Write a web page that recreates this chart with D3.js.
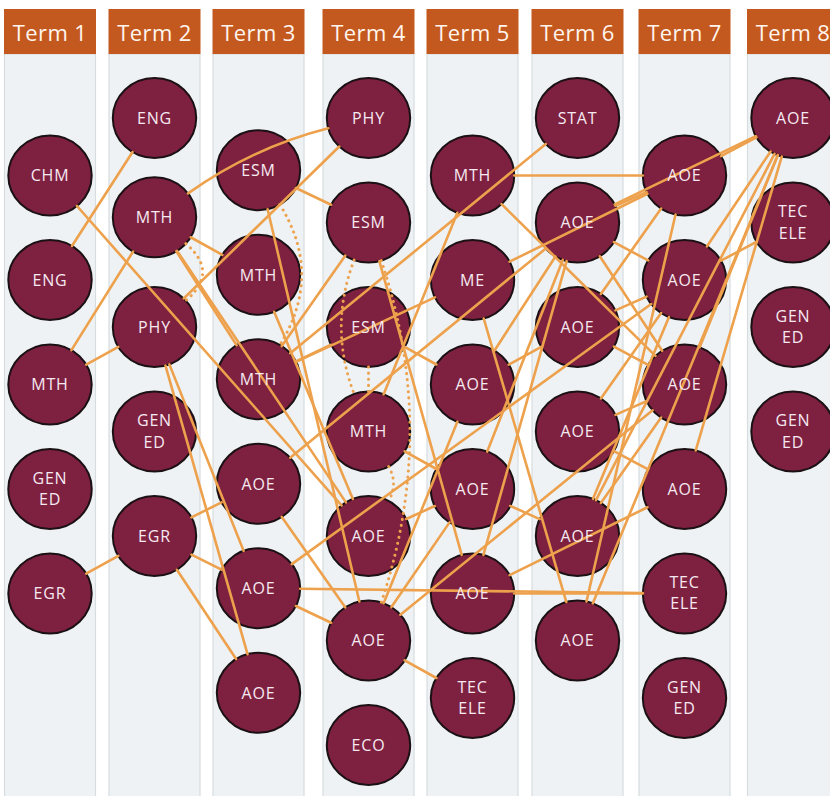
<!DOCTYPE html>
<html><head><meta charset="utf-8">
<script src="https://cdn.jsdelivr.net/npm/d3@7"></script>
<style>
html,body{margin:0;padding:0;background:#fff;}
svg{display:block;}
</style></head><body>
<svg id="chart" width="830" height="796"></svg>
<script>
// ---------------- data ----------------
const terms = ["Term 1","Term 2","Term 3","Term 4","Term 5","Term 6","Term 7","Term 8"];

const courseLabels = [
  ["CHM","ENG","MTH","GEN ED","EGR"],
  ["ENG","MTH","PHY","GEN ED","EGR"],
  ["ESM","MTH","MTH","AOE","AOE","AOE"],
  ["PHY","ESM","ESM","MTH","AOE","AOE","ECO"],
  ["MTH","ME","AOE","AOE","AOE","TEC ELE"],
  ["STAT","AOE","AOE","AOE","AOE","AOE"],
  ["AOE","AOE","AOE","AOE","TEC ELE","GEN ED"],
  ["AOE","TEC ELE","GEN ED","GEN ED"]
];
// vertical slot of each course in its term column
const courseSlots = [
  [1.1,3.1,5.1,7.1,9.1],
  [0,1.9,4,6,8],
  [1,3,5,7,9,11],
  [0,2,4,6,8,10,12],
  [1.1,3.1,5.1,7.1,9.1,11.1],
  [0,2,4,6,8,10],
  [1.1,3.1,5.1,7.1,9.1,11.1],
  [0,2,4,6]
];

// prerequisite links "term.course"
const prereqLinks = [
  ["1.2","2.1"],["1.3","2.2"],["1.3","2.3"],["1.5","2.5"],["1.1","4.5"],
  ["2.2","3.2"],["2.2","3.3"],["2.2","4.5"],["2.3","4.1"],["2.3","3.5"],["2.3","3.6"],
  ["2.5","3.4"],["2.5","3.5"],["2.5","3.6"],
  ["3.1","4.2"],["3.1","4.6"],["3.2","4.5"],["3.3","4.2"],["3.3","4.3"],["3.3","5.2"],
  ["3.3","6.1"],["3.4","4.6"],["3.4","6.2"],["3.5","4.6"],["3.5","7.5"],["3.5","7.2"],
  ["4.2","5.5"],["4.3","5.3"],["4.4","5.1"],["4.4","5.4"],["4.5","5.4"],
  ["4.6","5.3"],["4.6","5.4"],["4.6","5.6"],["4.6","7.3"],
  ["5.1","7.1"],["5.1","7.3"],["5.2","7.1"],["5.2","6.6"],["5.3","6.2"],["5.3","6.3"],
  ["5.4","6.2"],["5.4","6.5"],["5.5","6.2"],["5.5","7.4"],["5.5","7.5"],
  ["6.2","7.1"],["6.2","7.2"],["6.2","7.3"],["6.2","8.1"],["6.3","7.1"],["6.3","7.2"],
  ["6.3","7.3"],["6.4","7.2"],["6.4","7.3"],["6.4","7.4"],["6.5","7.2"],["6.5","7.3"],
  ["6.6","7.1"],["6.5","8.1"],["6.6","8.1"],
  ["7.1","8.1"],["7.2","8.1"],["7.2","8.2"],["7.3","8.1"],["7.4","8.1"]
];
// curved prerequisite links: [from, to, bend]
const arcLinks = [["2.2","4.1",22]];
// corequisite (dotted) links: [from, to, bend]
const coreqLinks = [
  ["2.2","2.3",65],["3.1","3.3",65],["4.2","4.4",-40],["4.3","4.4",0],
  ["4.2","4.6",70],["4.4","4.5",30]
];

// ---------------- layout ----------------
const W = 830, H = 796;
const RX = 41.7, RY = 40;
const svg = d3.select("#chart");

const x = d3.scaleOrdinal().domain(terms)
  .range([50,154.5,258.5,368.5,472.5,577.5,684.5,793]);
const y = d3.scaleLinear().domain([0,12]).range([118,745]);

const nodes = [];
const nodeById = {};
courseLabels.forEach((list, ti) => {
  list.forEach((lab, ci) => {
    const n = {id:(ti+1)+"."+(ci+1), label:lab, term:terms[ti], slot:courseSlots[ti][ci]};
    n.x = x(n.term); n.y = y(n.slot);
    nodes.push(n); nodeById[n.id] = n;
  });
});

// columns
const colW = 92;
const cols = svg.append("g");
cols.selectAll("rect.col").data(terms).join("rect")
  .attr("class","col")
  .attr("x", d => x(d) - colW/2 + 0.5).attr("y", 54)
  .attr("width", colW - 1).attr("height", H - 54 + 10)
  .attr("fill","#eef2f4").attr("stroke","#d8dcdf").attr("stroke-width",1.2);
cols.selectAll("rect.head").data(terms).join("rect")
  .attr("class","head")
  .attr("x", d => x(d) - colW/2).attr("y", 9)
  .attr("width", colW).attr("height", 45)
  .attr("fill","#c4591f");
cols.selectAll("text.head").data(terms).join("text")
  .attr("class","head")
  .attr("x", d => x(d)).attr("y", 31.5)
  .attr("text-anchor","middle").attr("dominant-baseline","central")
  .attr("font-family","'Open Sans', sans-serif").attr("font-size",22)
  .attr("letter-spacing",0.4)
  .attr("fill","#fff5ee")
  .text(d => d);

// nodes
svg.append("g").selectAll("ellipse").data(nodes).join("ellipse")
  .attr("cx", d => d.x).attr("cy", d => d.y)
  .attr("rx", RX).attr("ry", RY)
  .attr("fill","#7e2040").attr("stroke","#1b1114").attr("stroke-width",2);

// links
function edge(n, tx, ty){
  const dx = tx - n.x, dy = ty - n.y;
  const t = 1/Math.sqrt((dx/RX)**2 + (dy/RY)**2);
  return [n.x + dx*t, n.y + dy*t];
}
function straightPath(a, b){
  const s = edge(a, b.x, b.y), e = edge(b, a.x, a.y);
  return `M${s[0]},${s[1]}L${e[0]},${e[1]}`;
}
function curvePath(a, b, bend){
  const mx = (a.x+b.x)/2, my = (a.y+b.y)/2;
  const dx = b.x-a.x, dy = b.y-a.y, len = Math.hypot(dx,dy);
  const nx = dy/len, ny = -dx/len;
  const c = [mx + bend*nx, my + bend*ny];
  const s = edge(a, c[0], c[1]), e = edge(b, c[0], c[1]);
  return `M${s[0]},${s[1]}Q${c[0]},${c[1]} ${e[0]},${e[1]}`;
}

const linkG = svg.append("g").attr("fill","none").attr("stroke","#eda14c");
linkG.selectAll("path.pre").data(prereqLinks).join("path")
  .attr("class","pre")
  .attr("d", d => straightPath(nodeById[d[0]], nodeById[d[1]]))
  .attr("stroke-width",2.6).attr("stroke-linecap","round");
linkG.selectAll("path.arc").data(arcLinks).join("path")
  .attr("class","arc")
  .attr("d", d => curvePath(nodeById[d[0]], nodeById[d[1]], d[2]))
  .attr("stroke-width",2.6).attr("stroke-linecap","round");
linkG.selectAll("path.co").data(coreqLinks).join("path")
  .attr("class","co")
  .attr("d", d => d[2] === 0 ? straightPath(nodeById[d[0]], nodeById[d[1]])
                            : curvePath(nodeById[d[0]], nodeById[d[1]], d[2]))
  .attr("stroke-width",3).attr("stroke-linecap","round")
  .attr("stroke-dasharray","0.1,6");

// labels
const lab = svg.append("g").selectAll("text").data(nodes).join("text")
  .attr("x", d => d.x).attr("y", d => d.y)
  .attr("text-anchor","middle")
  .attr("font-family","'Open Sans', sans-serif").attr("font-size",16)
  .attr("letter-spacing",0.8)
  .attr("fill","#f6e9f0");
lab.each(function(d){
  const parts = d.label.split(" ");
  const t = d3.select(this);
  if (parts.length === 1){
    t.append("tspan").attr("x", d.x).attr("dy","0.36em").text(parts[0]);
  } else {
    t.append("tspan").attr("x", d.x).attr("dy","-0.32em").text(parts[0]);
    t.append("tspan").attr("x", d.x).attr("dy","1.32em").text(parts[1]);
  }
});
</script>
</body></html>
